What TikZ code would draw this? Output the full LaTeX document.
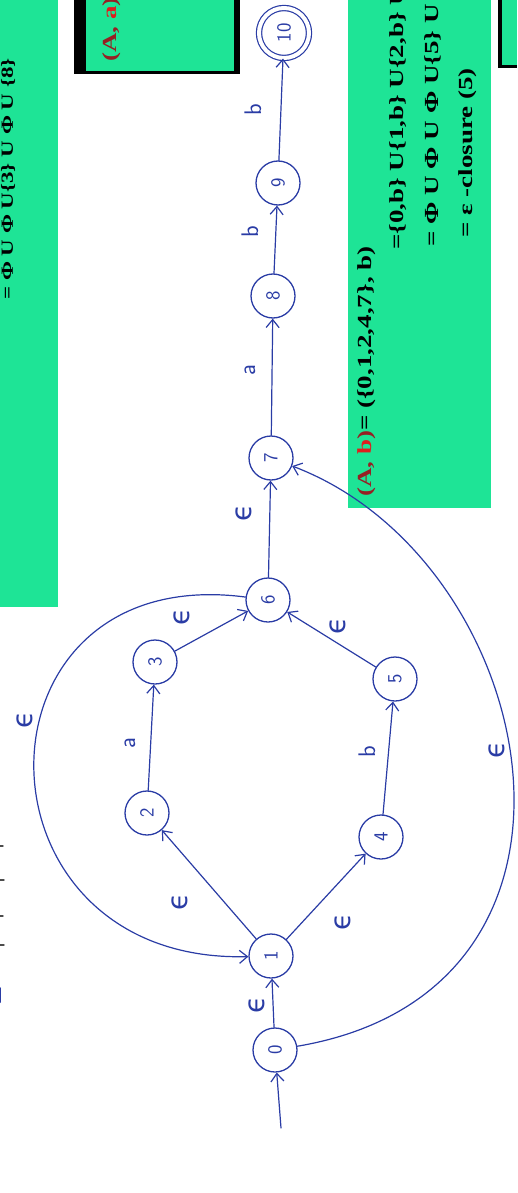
\documentclass[tikz,border=0pt]{standalone}
\usepackage{fontspec}
\setmainfont{Liberation Serif}
\newfontfamily\handfont{DejaVu Sans}
\usetikzlibrary{arrows.meta}

\definecolor{ink}{RGB}{42,60,165}
\definecolor{boxgreen}{RGB}{30,228,150}
\definecolor{boxred}{RGB}{150,32,36}
\definecolor{brightred}{RGB}{222,30,30}
\newcommand{\widetext}[1]{\scalebox{1.35}[1]{#1}}

\begin{document}
\begin{tikzpicture}[x=1pt,y=-1pt,>={Straight Barb[length=8pt,width=13pt]},line join=round,line cap=round,
  state/.style={circle,draw=ink,line width=1.3pt,minimum size=44pt,inner sep=0pt,text=ink,
    font=\sffamily\fontsize{20}{20}\selectfont,rotate=90},
  final/.style={state,minimum size=50pt,line width=1.2pt,double=white,double distance=4pt},
  link/.style={draw=ink,line width=1.2pt,->},
  lbl/.style={text=ink,font=\sffamily\fontsize{24}{24}\selectfont,rotate=90,inner sep=0pt},
  eps/.style={lbl,font=\handfont\fontsize{28}{28}\selectfont},
  boxtext/.style={rotate=90,anchor=west,inner sep=0pt,font=\bfseries\fontsize{20}{20}\selectfont},
  smalltext/.style={boxtext,font=\bfseries\fontsize{17}{17}\selectfont}]
  \useasboundingbox (0,0) rectangle (517,1193);
  \clip (0,0) rectangle (517,1193);

  % green slides behind the drawing
  \fill[boxgreen] (0,0) rectangle (58,607);
  \fill[black] (74,-5) rectangle (240,74);
  \fill[boxgreen] (86,-5) rectangle (234,71);
  \fill[boxgreen] (348,0) rectangle (491,508);
  \fill[black] (498,-5) rectangle (517,68);
  \fill[boxgreen] (502,-5) rectangle (517,65);

  \node[smalltext] (lefteq) at (8,300) {\widetext{= Φ U Φ U\{3\} U Φ U \{8\}}};
  \node[boxtext] (aa) at (112,62) {\widetext{\color{boxred}(A, \color{brightred}a\color{boxred})}};
  \node[boxtext] (ab1) at (367,497) {\widetext{{\color{boxred}(A, }{\color{brightred}b}{\color{boxred})}= (\{0,1,2,4,7\}, b)}};
  \node[boxtext] (ab2) at (398,250) {\widetext{=\{0,b\} U\{1,b\} U\{2,b\} U}};
  \node[boxtext] (ab3) at (433,247) {\widetext{= Φ U Φ U Φ U\{5\} U}};
  \node[boxtext] (ab4) at (468,238) {\widetext{= ε -closure (5)}};

  % marks at the left edge
  \draw[black!70,line width=1.4pt] (0,846)--(3,846) (0,880)--(4,880) (0,916)--(3,916) (0,945)--(4,945);
  \draw[ink,line width=2pt] (0,988)--(0,1002);

  % states
  \node[state] (q0) at (275,1050) {0};
  \node[state] (q1) at (271,956) {1};
  \node[state] (q2) at (147,813) {2};
  \node[state] (q3) at (155,662) {3};
  \node[state] (q4) at (381,837) {4};
  \node[state] (q5) at (395,679) {5};
  \node[state] (q6) at (268,600) {6};
  \node[state] (q7) at (271,458) {7};
  \node[state] (q8) at (273,296) {8};
  \node[state] (q9) at (278,183) {9};
  \node[final] (q10) at (284,33) {10};

  \coordinate (start) at (281,1128);
  \coordinate (back1) at (-37,560);
  \coordinate (back2) at (-37,964);
  \coordinate (skip1) at (630,990);
  \coordinate (skip2) at (540,560);

  \draw[link] (start) -- (q0);
  \draw[link] (q0) -- (q1);
  \draw[link] (q1) -- (q2);
  \draw[link] (q2) -- (q3);
  \draw[link] (q3) -- (q6);
  \draw[link] (q1) -- (q4);
  \draw[link] (q4) -- (q5);
  \draw[link] (q5) -- (q6);
  \draw[link] (q6) -- (q7);
  \draw[link] (q7) -- (q8);
  \draw[link] (q8) -- (q9);
  \draw[link] (q9) -- (q10);
  \draw[link] (q6) .. controls (back1) and (back2) .. (q1);
  \draw[link] (q0) .. controls (skip1) and (skip2) .. (q7);

  % transition labels
  \node[eps] (l01) at (257,1005) {ϵ};
  \node[eps] (l12) at (180,902) {ϵ};
  \node[eps] (l14) at (343,922) {ϵ};
  \node[lbl] (l23) at (130,743) {a};
  \node[lbl] (l45) at (367,752) {b};
  \node[eps] (l36) at (182,617) {ϵ};
  \node[eps] (l56) at (338,626) {ϵ};
  \node[eps] (l61) at (25,720) {ϵ};
  \node[eps] (l07) at (497,750) {ϵ};
  \node[eps] (l67) at (244,513) {ϵ};
  \node[lbl] (l78) at (250,370) {a};
  \node[lbl] (l89) at (250,232) {b};
  \node[lbl] (l910) at (253,110) {b};
\end{tikzpicture}
\end{document}
